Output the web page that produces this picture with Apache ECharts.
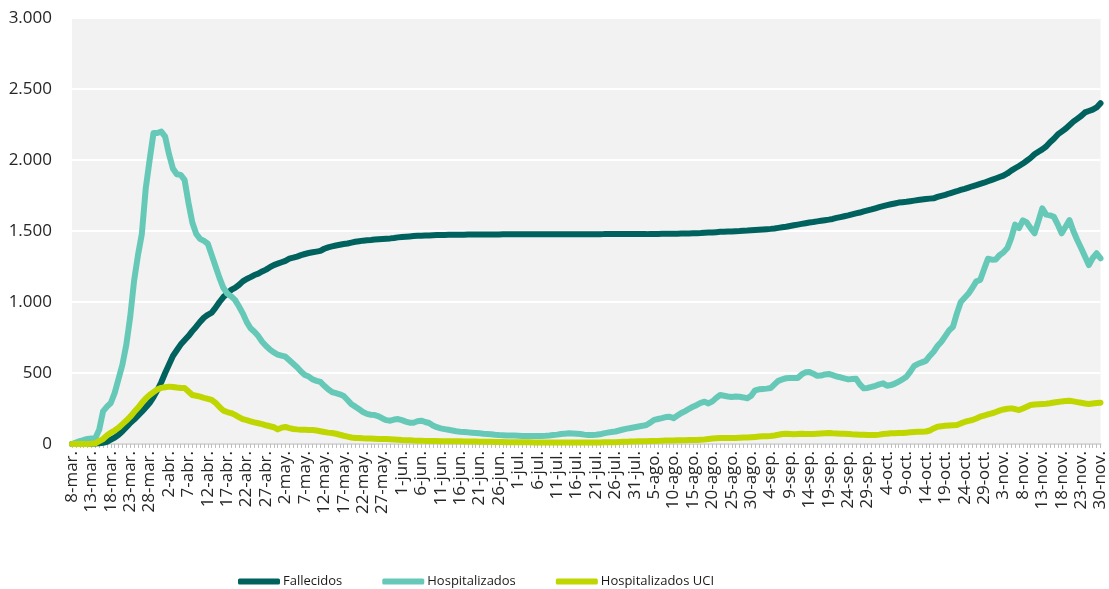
<!DOCTYPE html>
<html>
<head>
<meta charset="utf-8">
<script src="https://cdn.jsdelivr.net/npm/echarts@6/dist/echarts.min.js"></script>
<style>
  html, body { margin: 0; padding: 0; background: #fff; }
  #chart { width: 1109px; height: 589px; }
</style>
</head>
<body>
<div id="chart"></div>
<script>
// fechas: 8-mar a 30-nov (sin dato 28 y 29 nov)
const meses = ['ene.', 'feb.', 'mar.', 'abr.', 'may.', 'jun.', 'jul.', 'ago.', 'sep.', 'oct.', 'nov.', 'dic.'];
const sinDatos = ['28-nov.', '29-nov.'];
const fechas = [];
for (let d = new Date(2020, 2, 8, 12); d <= new Date(2020, 10, 30, 12); d.setDate(d.getDate() + 1)) {
  const s = d.getDate() + '-' + meses[d.getMonth()];
  if (!sinDatos.includes(s)) fechas.push(s);
}

const fallecidos = [
  0, 0, 0, 0, 1, 2, 3, 5, 8, 15,
  30, 45, 65, 90, 118, 148, 172, 200, 228, 258,
  289, 330, 380, 435, 500, 560, 620, 660, 700, 730,
  760, 795, 826, 860, 890, 910, 925, 960, 1000, 1035,
  1060, 1085, 1100, 1120, 1145, 1162, 1175, 1190, 1200, 1215,
  1228, 1245, 1260, 1270, 1280, 1290, 1305, 1312, 1320, 1330,
  1338, 1345, 1350, 1355, 1360, 1375, 1385, 1392, 1398, 1403,
  1408, 1412, 1418, 1424, 1428, 1432, 1435, 1437, 1440, 1442,
  1444, 1446, 1448, 1451, 1455, 1458, 1460, 1462, 1464, 1466,
  1467, 1468, 1469, 1470, 1471, 1472, 1472, 1473, 1473, 1474,
  1474, 1474, 1475, 1475, 1475, 1475, 1476, 1476, 1476, 1476,
  1476, 1477, 1477, 1477, 1477, 1477, 1477, 1477, 1477, 1477,
  1477, 1477, 1477, 1477, 1477, 1477, 1477, 1477, 1477, 1477,
  1477, 1477, 1477, 1477, 1477, 1477, 1477, 1478, 1478, 1478,
  1478, 1478, 1478, 1478, 1478, 1478, 1478, 1478, 1478, 1479,
  1479, 1479, 1480, 1480, 1480, 1481, 1481, 1482, 1482, 1483,
  1484, 1485, 1486, 1488, 1489, 1490, 1492, 1494, 1495, 1496,
  1497, 1499, 1500, 1502, 1503, 1505, 1507, 1509, 1511, 1513,
  1515, 1518, 1522, 1526, 1530, 1535, 1540, 1545, 1550, 1555,
  1560, 1563, 1568, 1572, 1576, 1580, 1585, 1592, 1598, 1604,
  1610, 1617, 1624, 1630, 1638, 1645, 1652, 1660, 1668, 1675,
  1682, 1688, 1694, 1700, 1703, 1706, 1710, 1714, 1718, 1722,
  1725, 1728, 1730, 1740, 1748, 1755, 1764, 1772, 1780, 1789,
  1797, 1806, 1815, 1823, 1832, 1840, 1850, 1860, 1870, 1880,
  1890, 1905, 1925, 1942, 1958, 1975, 1995, 2015, 2040, 2058,
  2075, 2095, 2125, 2150, 2180, 2200, 2220, 2245, 2270, 2290,
  2310, 2335, 2345, 2355, 2370, 2400
];

const hospitalizados = [
  0, 10, 20, 28, 35, 38, 40, 100, 230, 263,
  289, 360, 460, 560, 700, 896, 1150, 1330, 1480, 1800,
  2000, 2190, 2190, 2200, 2165, 2040, 1940, 1900, 1895, 1860,
  1700, 1560, 1480, 1445, 1430, 1410, 1330, 1250, 1170, 1100,
  1060, 1040, 1015, 970, 920, 860, 815, 790, 760, 720,
  690, 665, 645, 630, 622, 615, 590, 565, 540, 510,
  486, 475, 455, 445, 437, 410, 385, 366, 358, 350,
  338, 310, 280, 263, 245, 225, 212, 206, 204, 195,
  180, 168, 164, 172, 176, 168, 158, 150, 150, 160,
  164, 155, 148, 130, 118, 110, 105, 100, 95, 90,
  87, 85, 82, 80, 78, 75, 72, 70, 68, 65,
  63, 62, 60, 60, 59, 58, 57, 57, 56, 56,
  56, 57, 58, 60, 63, 66, 70, 73, 75, 74,
  72, 70, 66, 63, 63, 65, 68, 75, 80, 85,
  88, 95, 102, 108, 113, 118, 123, 128, 134, 150,
  170, 176, 182, 190, 192, 182, 200, 218, 232, 248,
  263, 275, 290, 298, 286, 300, 325, 345, 340, 335,
  331, 335, 333, 328, 322, 340, 378, 385, 388, 390,
  394, 420, 445, 455, 463, 465, 465, 465, 490, 505,
  507, 495, 480, 482, 490, 493, 485, 475, 470, 462,
  455, 458, 460, 420, 392, 395, 402, 410, 420, 427,
  410, 415, 425, 440, 455, 474, 510, 550, 565, 575,
  585, 620, 650, 690, 720, 760, 800, 826, 920, 1000,
  1030, 1060, 1100, 1145, 1155, 1230, 1305, 1298, 1300, 1330,
  1350, 1380, 1450, 1545, 1520, 1575, 1560, 1520, 1484, 1570,
  1660, 1615, 1610, 1600, 1545, 1484, 1530, 1577, 1500, 1437,
  1380, 1320, 1260, 1310, 1343, 1308
];

const uci = [
  0, 0, 0, 0, 0, 2, 5, 20, 35, 60,
  80, 95, 115, 140, 165, 192, 225, 255, 290, 320,
  345, 365, 385, 395, 400, 404, 402, 398, 395, 395,
  370, 345, 340, 333, 325, 318, 310, 290, 260, 235,
  225, 218, 205, 190, 175, 168, 160, 152, 146, 140,
  132, 125, 118, 103, 115, 120, 112, 106, 103, 101,
  100, 99, 99, 95, 90, 85, 80, 77, 72, 65,
  58, 52, 46, 42, 42, 40, 39, 38, 37, 36,
  35, 35, 34, 32, 30, 28, 27, 26, 24, 23,
  23, 22, 22, 21, 21, 20, 20, 20, 20, 20,
  19, 18, 18, 17, 17, 16, 16, 15, 15, 14,
  14, 14, 13, 13, 13, 12, 12, 12, 12, 11,
  11, 11, 11, 11, 10, 10, 10, 10, 10, 10,
  10, 10, 10, 10, 11, 11, 11, 12, 12, 13,
  13, 14, 15, 16, 17, 18, 19, 20, 20, 21,
  22, 22, 23, 24, 25, 25, 26, 27, 27, 28,
  28, 28, 30, 32, 35, 38, 40, 42, 42, 42,
  42, 43, 44, 45, 46, 48, 50, 52, 54, 55,
  56, 60, 65, 70, 72, 70, 68, 70, 72, 71,
  70, 70, 72, 74, 76, 77, 75, 74, 73, 72,
  70, 68, 67, 66, 65, 63, 63, 64, 66, 70,
  73, 75, 76, 77, 78, 80, 82, 84, 86, 87,
  88, 95, 110, 122, 125, 128, 130, 132, 134, 145,
  155, 163, 169, 180, 192, 200, 208, 216, 225, 235,
  243, 248, 251, 246, 239, 250, 262, 275, 278, 280,
  282, 284, 287, 292, 296, 300, 303, 305, 300, 295,
  290, 285, 282, 285, 288, 291
];

const nombres = ['Fallecidos', 'Hospitalizados', 'Hospitalizados UCI'];
const colores = ['#00625e', '#66c9b8', '#bfd600'];

const fuente = '"Open Sans", "Noto Sans", sans-serif';
const chart = echarts.init(document.getElementById('chart'));

const linea = (nombre, datos, color) => ({
  name: nombre,
  type: 'line',
  data: datos,
  symbol: 'none',
  smooth: false,
  color: color,
  lineStyle: { width: 6, color: color, cap: 'round', join: 'round' }
});

chart.setOption({
  animation: false,
  textStyle: { fontFamily: fuente },
  grid: {
    left: 72, right: 1, top: 18, bottom: 145,
    show: true, backgroundColor: '#f2f2f2', borderWidth: 0
  },
  legend: {
    left: 233, top: 570,
    itemWidth: 42, itemHeight: 6, itemGap: 40,
    icon: 'roundRect',
    textStyle: { fontFamily: fuente, fontSize: 13, color: '#1a1a1a', padding: [0, 0, 0, -2] },
    data: nombres
  },
  xAxis: {
    type: 'category',
    data: fechas,
    boundaryGap: false,
    axisLine: { lineStyle: { color: '#d9d9d9', width: 2 } },
    axisTick: { show: true, interval: 0, length: 4, lineStyle: { color: '#bfbfbf' } },
    axisLabel: {
      interval: 4, rotate: 90, margin: 7,
      fontFamily: fuente, fontSize: 17, color: '#262626'
    },
    splitLine: { show: false }
  },
  yAxis: {
    type: 'value',
    min: 0, max: 3000, interval: 500,
    axisLine: { show: false },
    axisTick: { show: false },
    axisLabel: {
      margin: 20, fontFamily: fuente, fontSize: 17, color: '#262626',
      formatter: v => String(v).replace(/\B(?=(\d{3})+(?!\d))/g, '.')
    },
    splitLine: { lineStyle: { color: '#ffffff', width: 2 } }
  },
  series: [
    linea(nombres[0], fallecidos, colores[0]),
    linea(nombres[1], hospitalizados, colores[1]),
    linea(nombres[2], uci, colores[2])
  ]
});
</script>
</body>
</html>
